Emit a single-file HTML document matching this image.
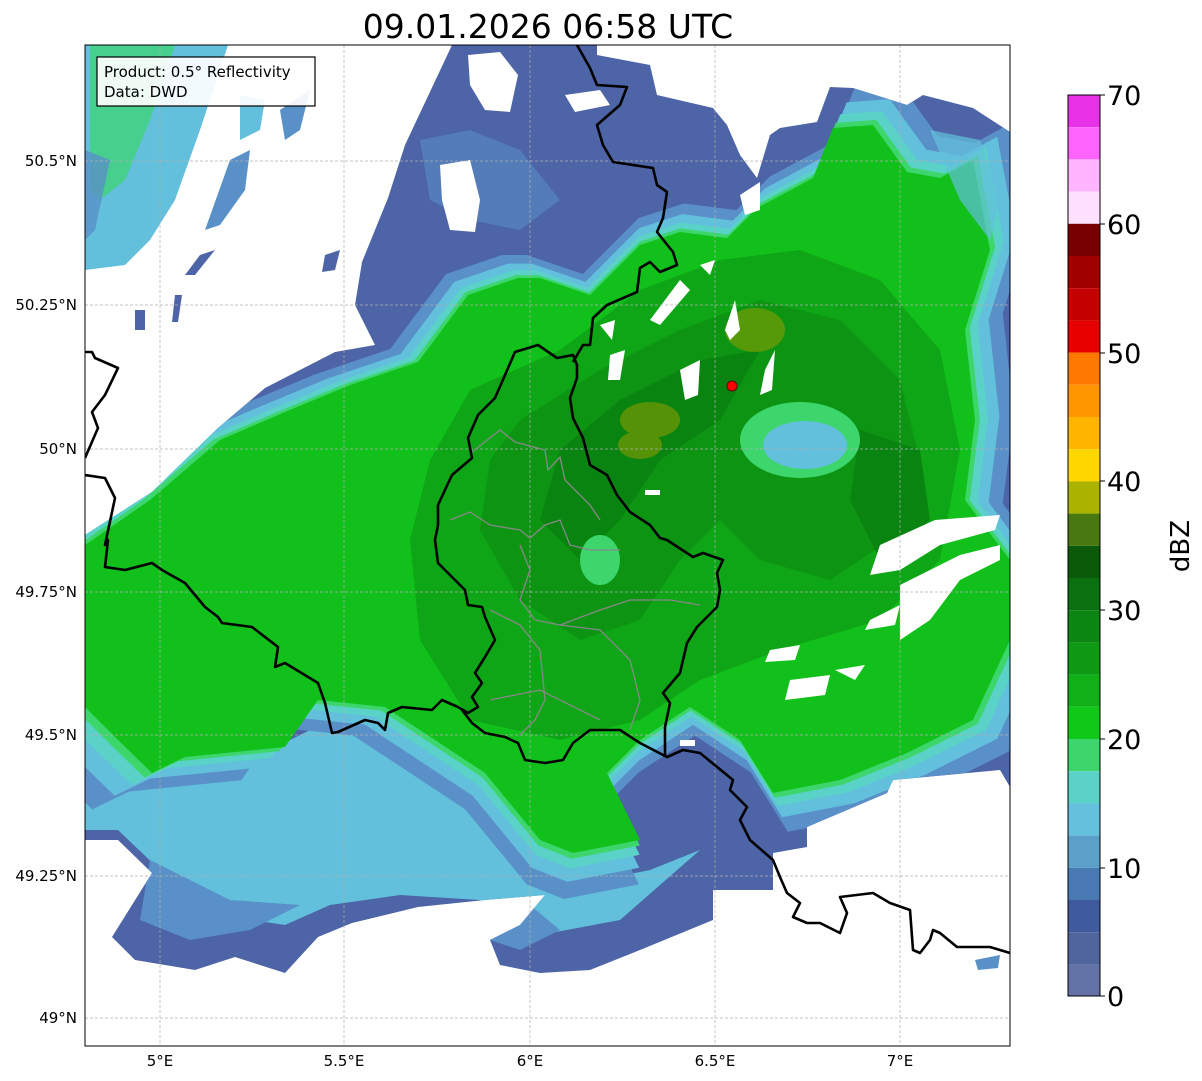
<!DOCTYPE html>
<html><head><meta charset="utf-8"><style>
html,body{margin:0;padding:0;background:#fff;}
svg{display:block;font-family:"DejaVu Sans","Liberation Sans",sans-serif;}
</style></head><body>
<svg width="1202" height="1081" viewBox="0 0 1202 1081" xmlns="http://www.w3.org/2000/svg">
<defs>
<clipPath id="map"><rect x="85" y="45" width="925" height="1001"/></clipPath>
<polygon id="outer" points="452,45 597,45 597,55 650,65 657,95 713,108 727,125 740,155 757,178 770,135 780,128 817,122 830,87 853,88 907,105 923,95 973,108 1010,132 1010,787 1000,770 893,780 887,793 847,810 807,827 807,847 773,853 773,890 713,890 713,920 640,950 590,970 540,973 500,965 490,940 520,925 545,895 485,900 418,907 352,923 318,937 285,973 235,957 195,970 135,960 112,937 152,873 118,840 85,840 85,535 152,492 218,428 265,388 335,352 375,345 355,305 362,262 388,198 405,145"/>
<clipPath id="oc"><use href="#outer"/></clipPath>
<polygon id="green" points="85,545 150,500 220,440 285,412 350,385 418,362 468,295 518,278 540,278 590,295 640,245 680,232 727,238 757,208 813,178 833,128 873,125 907,172 940,178 973,160 990,250 965,330 975,420 965,500 1010,560 1010,640 973,720 907,753 840,780 773,793 740,740 690,707 640,740 607,773 640,840 573,853 540,840 485,773 435,740 385,707 318,700 285,747 185,757 152,773 118,740 85,707"/>
</defs>
<text x="548" y="38" font-size="33" text-anchor="middle">09.01.2026 06:58 UTC</text>
<g clip-path="url(#map)">
<rect x="85" y="45" width="925" height="1001" fill="#fff"/>
<use href="#outer" fill="#4d64a6"/>
<g clip-path="url(#oc)">
<!-- bottom cyan zone -->
<polygon fill="#62c0dc" points="85,700 160,760 250,760 330,720 400,740 470,780 545,850 600,880 650,870 700,850 620,920 540,935 480,900 400,895 330,905 285,925 220,915 160,870 118,830 85,830"/>
<polygon fill="#5a90c8" points="150,860 230,900 300,905 250,930 190,940 140,920"/>
<polygon fill="#5a90c8" points="470,910 530,905 560,930 520,950 490,940"/>
<use href="#green" fill="#5a90c8" transform="translate(650,470) scale(1.12) translate(-650,-470)"/>
<use href="#green" fill="#62c0dc" transform="translate(650,470) scale(1.075) translate(-650,-470)"/>
<use href="#green" fill="#5ad2c8" transform="translate(650,470) scale(1.04) translate(-650,-470)"/>
<use href="#green" fill="#3cd66c" transform="translate(650,470) scale(1.015) translate(-650,-470)"/>
<use href="#green" fill="#12c01c"/>
<!-- blue patches inside -->
<polygon fill="#5a8cc4" points="420,140 470,130 520,150 560,200 520,230 470,220 430,200" opacity="0.6"/>
<polygon fill="#62c0dc" points="930,130 980,140 1000,200 990,240 960,200" opacity="0.7"/>
</g>
<!-- dark green core -->
<polygon fill="#0ea616" points="470,390 560,350 640,290 720,260 800,250 880,280 940,350 960,450 940,560 880,620 780,650 700,680 640,720 560,740 470,720 420,640 410,540 430,460"/>
<polygon fill="#0c9412" points="520,420 600,370 680,330 760,300 840,320 900,380 920,460 890,540 830,580 760,560 720,520 680,560 640,620 580,640 520,600 480,530 490,460"/>
<polygon fill="#0a8410" points="560,450 620,400 700,360 760,350 720,420 660,460 620,520 580,560 540,520"/>
<polygon fill="#0a8410" points="860,430 920,450 930,520 880,560 850,500"/>
<ellipse cx="800" cy="440" rx="60" ry="38" fill="#3cd66c"/>
<ellipse cx="805" cy="445" rx="42" ry="24" fill="#62c0dc"/>
<ellipse cx="600" cy="560" rx="20" ry="25" fill="#3cd66c"/>
<g fill="#a0a000" opacity="0.5">
<ellipse cx="650" cy="420" rx="30" ry="18"/><ellipse cx="755" cy="330" rx="30" ry="22"/><ellipse cx="640" cy="445" rx="22" ry="14"/>
</g>
<!-- top-left strip -->
<polygon fill="#62c0dc" points="85,45 228,45 200,130 175,200 150,240 125,265 85,270"/>
<polygon fill="#3cd66c" points="90,45 175,45 150,120 125,180 100,200 90,190" opacity="0.7"/>
<polygon fill="#5a90c8" points="85,150 110,160 95,230 85,240" opacity="0.8"/>
<polygon fill="#5a90c8" points="230,160 250,150 245,190 220,225 205,230"/>
<polygon fill="#62c0dc" points="240,95 265,100 260,130 240,140"/>
<polygon fill="#4d64a6" points="200,255 215,250 195,275 185,275"/>
<polygon fill="#4d64a6" points="135,310 145,310 145,330 135,330"/>
<polygon fill="#4d64a6" points="175,295 182,295 178,322 172,322"/>
<polygon fill="#5a90c8" points="280,110 310,90 300,130 285,140"/>
<polygon fill="#4d64a6" points="325,255 340,250 335,270 322,272"/>
<!-- white holes -->
<polygon fill="#fff" points="468,55 500,52 518,75 510,112 485,110 470,85"/>
<polygon fill="#fff" points="440,165 470,160 480,200 475,232 450,230 442,200"/>
<polygon fill="#fff" points="565,95 600,90 610,105 575,112"/>
<polygon fill="#fff" points="740,195 760,182 760,210 745,215"/>
<polygon fill="#fff" points="880,545 935,520 1000,515 995,530 940,545 900,570 870,575"/>
<polygon fill="#fff" points="900,585 960,555 1000,545 1000,560 960,580 930,620 900,640"/>
<polygon fill="#fff" points="870,620 900,605 895,625 865,630"/>
<polygon fill="#fff" points="790,680 830,675 825,695 785,700"/>
<polygon fill="#fff" points="770,650 800,645 795,660 765,662"/>
<polygon fill="#fff" points="835,670 865,665 855,680"/>
<polygon fill="#fff" points="650,320 680,280 690,290 660,325"/>
<polygon fill="#fff" points="680,370 700,360 698,395 685,400"/>
<polygon fill="#fff" points="765,370 775,350 772,390 760,395"/>
<polygon fill="#fff" points="725,330 735,300 740,330 730,340"/>
<polygon fill="#fff" points="700,265 715,260 710,275"/>
<polygon fill="#fff" points="610,355 625,350 620,380 608,380"/>
<polygon fill="#fff" points="600,325 615,320 612,340"/>
<rect x="645" y="490" width="15" height="5" fill="#fff"/>
<rect x="680" y="740" width="15" height="6" fill="#fff"/>
<polygon fill="#5a90c8" points="975,960 1000,955 998,968 978,970"/>
</g>
<g stroke="#b0b0b0" stroke-width="0.7" stroke-dasharray="3,2" fill="none">
<line x1="160" y1="45" x2="160" y2="1046"/><line x1="344" y1="45" x2="344" y2="1046"/><line x1="530" y1="45" x2="530" y2="1046"/><line x1="715" y1="45" x2="715" y2="1046"/><line x1="900" y1="45" x2="900" y2="1046"/>
<line x1="85" y1="161" x2="1010" y2="161"/><line x1="85" y1="305" x2="1010" y2="305"/><line x1="85" y1="449" x2="1010" y2="449"/><line x1="85" y1="592" x2="1010" y2="592"/><line x1="85" y1="735" x2="1010" y2="735"/><line x1="85" y1="876" x2="1010" y2="876"/><line x1="85" y1="1018" x2="1010" y2="1018"/>
</g>
<g stroke="#888" stroke-width="1.3" fill="none" clip-path="url(#map)">
<polyline points="472,452 500,430 515,442 545,450 548,470 560,457 565,480 590,505 600,520"/>
<polyline points="450,520 470,512 490,525 520,530 530,538 545,525 560,520 570,545 590,550 620,550"/>
<polyline points="520,545 530,570 520,600 535,620 560,625 600,610 630,600 670,600 700,605"/>
<polyline points="490,610 520,625 540,650 545,700 535,720 520,735"/>
<polyline points="560,625 600,630 630,660 640,700 630,730"/>
<polyline points="490,700 540,690 580,710 600,720"/>
</g>
<g stroke="#000" stroke-width="2.6" fill="none" stroke-linejoin="round" clip-path="url(#map)">
<polyline points="85,352 92,352 95,358 118,368 105,395 92,412 98,428 85,458"/>
<polyline points="85,475 105,478 115,498 105,545 108,540 105,567 125,570 152,563 162,570 185,583 205,607 218,617 222,623 252,627 278,647 275,667 285,663 318,683 325,703 332,733 338,732 365,720 378,723 385,730 388,713 402,707 432,710 442,700 458,707 468,713 478,707 472,697 482,683 475,673 485,657 495,640 485,617 482,607 468,605 465,590 438,563 435,540 438,525 438,505 452,475 472,458 468,438 478,415 495,398 515,352 538,345 557,358 573,355 577,365 577,378 570,398 573,418 583,438 590,465 607,475 617,495 630,512 650,525 660,538 667,540 693,557 703,553 723,560 717,573 720,590 717,607 697,627 687,643 680,673 663,693 670,703 665,727 665,757"/>
<polyline points="462,710 472,723 485,733 505,737 518,743 525,760 545,763 563,760 573,743 590,730 620,730 640,743 667,757 683,750 700,753 733,780 730,790 747,807 740,820 750,840 773,860 780,877 787,893 800,903 793,917 807,923 820,923 840,933 847,913 840,897 873,893 890,903 910,910 913,950 920,953 930,940 933,930 940,933 957,947 973,947 990,947 1010,953"/>
<polyline points="577,45 590,68 597,85 627,87 620,105 597,125 603,145 613,162 653,168 657,185 667,192 663,218 657,232 673,252 677,265 660,272 650,262 640,268 637,292 607,305 593,318 590,345 583,345 573,362"/>
</g>
<circle cx="732" cy="386" r="5" fill="#f00" stroke="#600" stroke-width="1"/>
<rect x="85" y="45" width="925" height="1001" fill="none" stroke="#000" stroke-width="1"/>
<rect x="97" y="57" width="218" height="49" fill="#fff" fill-opacity="0.92" stroke="#000" stroke-width="1.2"/>
<text x="104" y="77" font-size="15">Product: 0.5° Reflectivity</text>
<text x="104" y="97" font-size="15">Data: DWD</text>
<g font-size="15" text-anchor="end">
<text x="77" y="166">50.5°N</text><text x="77" y="310">50.25°N</text><text x="77" y="454">50°N</text><text x="77" y="597">49.75°N</text><text x="77" y="740">49.5°N</text><text x="77" y="881">49.25°N</text><text x="77" y="1023">49°N</text>
</g>
<g font-size="15" text-anchor="middle">
<text x="160" y="1066">5°E</text><text x="344" y="1066">5.5°E</text><text x="530" y="1066">6°E</text><text x="715" y="1066">6.5°E</text><text x="900" y="1066">7°E</text>
</g>
<g>
<rect x="1068" y="95.0" width="32" height="32.2" fill="#e832e8"/>
<rect x="1068" y="127.2" width="32" height="32.2" fill="#ff64ff"/>
<rect x="1068" y="159.4" width="32" height="32.2" fill="#ffb4ff"/>
<rect x="1068" y="191.6" width="32" height="32.2" fill="#ffe0ff"/>
<rect x="1068" y="223.8" width="32" height="32.2" fill="#780000"/>
<rect x="1068" y="256.0" width="32" height="32.2" fill="#a00000"/>
<rect x="1068" y="288.2" width="32" height="32.2" fill="#c40000"/>
<rect x="1068" y="320.4" width="32" height="32.2" fill="#e60000"/>
<rect x="1068" y="352.6" width="32" height="32.2" fill="#ff7800"/>
<rect x="1068" y="384.8" width="32" height="32.2" fill="#ff9600"/>
<rect x="1068" y="417.0" width="32" height="32.2" fill="#ffb400"/>
<rect x="1068" y="449.2" width="32" height="32.2" fill="#ffd700"/>
<rect x="1068" y="481.4" width="32" height="32.2" fill="#aab400"/>
<rect x="1068" y="513.6" width="32" height="32.2" fill="#4a7810"/>
<rect x="1068" y="545.8" width="32" height="32.2" fill="#0a5a0a"/>
<rect x="1068" y="578.0" width="32" height="32.2" fill="#0a7010"/>
<rect x="1068" y="610.2" width="32" height="32.2" fill="#0c8612"/>
<rect x="1068" y="642.4" width="32" height="32.2" fill="#0e9a14"/>
<rect x="1068" y="674.6" width="32" height="32.2" fill="#10b018"/>
<rect x="1068" y="706.8" width="32" height="32.2" fill="#10c818"/>
<rect x="1068" y="739.0" width="32" height="32.2" fill="#3cd66c"/>
<rect x="1068" y="771.2" width="32" height="32.2" fill="#5ad2c8"/>
<rect x="1068" y="803.4" width="32" height="32.2" fill="#64c0dc"/>
<rect x="1068" y="835.6" width="32" height="32.2" fill="#5aa0c8"/>
<rect x="1068" y="867.8" width="32" height="32.2" fill="#4a7ab4"/>
<rect x="1068" y="900.0" width="32" height="32.2" fill="#405aa0"/>
<rect x="1068" y="932.2" width="32" height="32.2" fill="#50649e"/>
<rect x="1068" y="964.4" width="32" height="31.6" fill="#6272a6"/>
<rect x="1068" y="95" width="32" height="901" fill="none" stroke="#000" stroke-width="1"/>
<g stroke="#000" stroke-width="1">
<line x1="1100" y1="996" x2="1105" y2="996"/><line x1="1100" y1="868" x2="1105" y2="868"/><line x1="1100" y1="739" x2="1105" y2="739"/><line x1="1100" y1="610" x2="1105" y2="610"/><line x1="1100" y1="481" x2="1105" y2="481"/><line x1="1100" y1="353" x2="1105" y2="353"/><line x1="1100" y1="224" x2="1105" y2="224"/><line x1="1100" y1="95" x2="1105" y2="95"/>
</g>
<g font-size="27">
<text x="1107" y="1006">0</text><text x="1107" y="878">10</text><text x="1107" y="749">20</text><text x="1107" y="620">30</text><text x="1107" y="491">40</text><text x="1107" y="363">50</text><text x="1107" y="234">60</text><text x="1107" y="105">70</text>
</g>
<text x="1189" y="546" font-size="26" text-anchor="middle" transform="rotate(-90 1189 546)">dBZ</text>
</g>
</svg>
</body></html>
